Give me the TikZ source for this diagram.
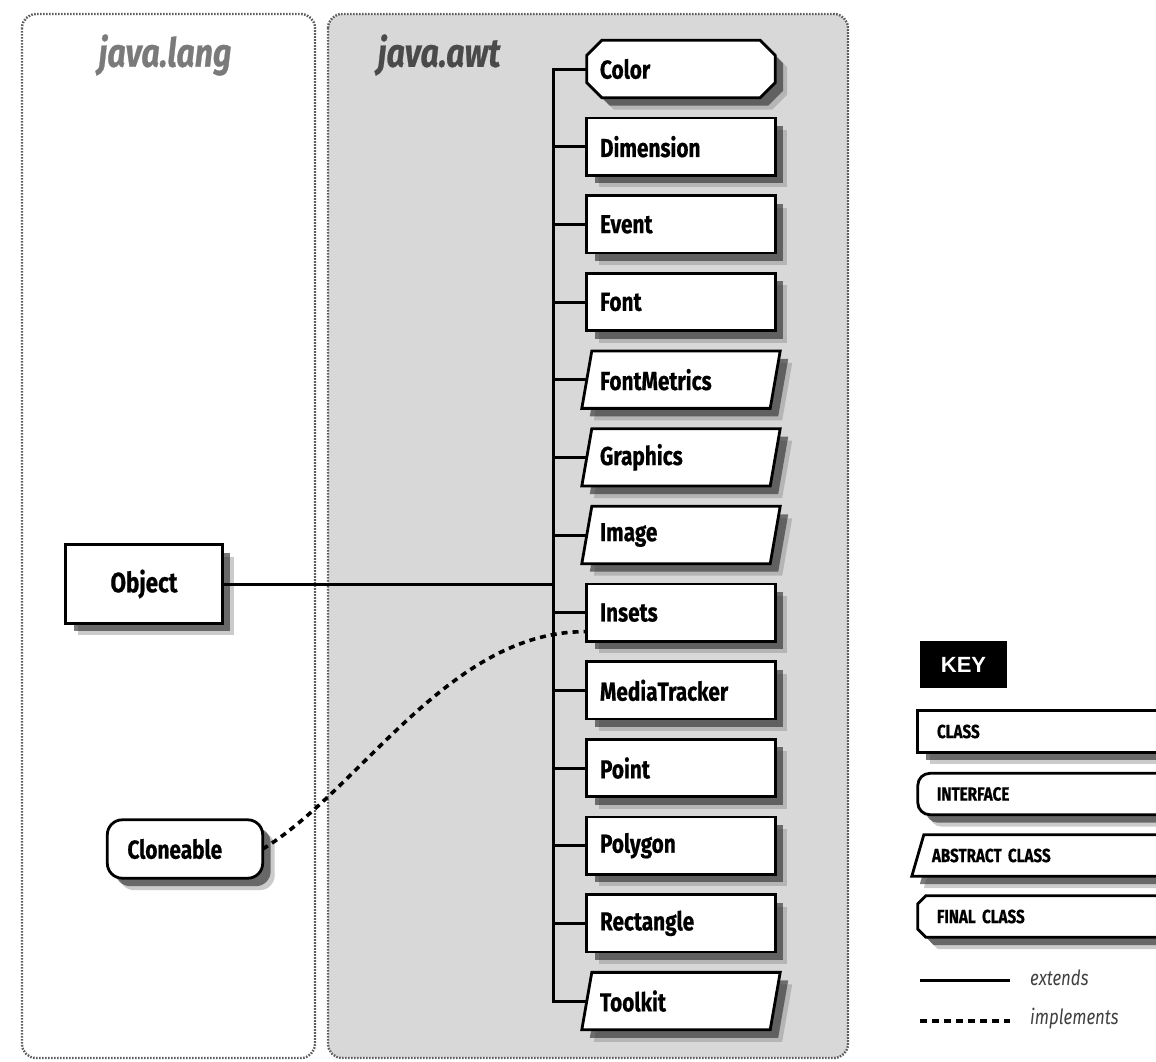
\documentclass[tikz,border=0pt]{standalone}
\usepackage{fontspec}
\setmainfont{Fira Sans}
\newfontfamily\condfont[FakeStretch=0.8]{Fira Sans}
\newfontfamily\heavyfont[FakeStretch=0.8,FakeBold=0.6]{Fira Sans}
\newfontfamily\keyfont{Liberation Sans}
\usetikzlibrary{shadows,calc}
\pgfdeclarelayer{back}
\pgfdeclarelayer{bg}
\pgfsetlayers{back,bg,main}
\definecolor{panelgray}{HTML}{D8D8D8}
\definecolor{bordergray}{HTML}{5E5E5E}
\definecolor{langgray}{HTML}{7A7A7A}
\definecolor{awtgray}{HTML}{4A4A4A}
\tikzset{
  panel/.style={draw=bordergray, line width=2.4pt, dash pattern=on 1.6pt off 1.4pt, rounded corners=14pt},
  ptitle/.style={font=\heavyfont\bfseries\itshape\fontsize{40}{44}\selectfont},
  outline/.style={draw=black, line width=2.8pt, fill=white, line join=miter,
     drop shadow={shadow xshift=12pt, shadow yshift=-12pt, fill=black!45, opacity=.45},
     drop shadow={shadow xshift=8pt, shadow yshift=-8pt, fill=black!80, opacity=.65}},
  boxtext/.style={font=\heavyfont\bfseries\fontsize{26}{30}\selectfont, text=black},
  awtbox/.style={boxtext, minimum width=188pt, minimum height=57pt, text width=162pt, inner xsep=13pt, inner ysep=0pt, align=left},
  keybox/.style={font=\heavyfont\bfseries\fontsize{19}{22}\selectfont, minimum width=250pt, minimum height=41pt, text width=212pt, inner xsep=19pt, inner ysep=0pt, align=left},
  extline/.style={draw=black, line width=3pt, line cap=rect},
  implline/.style={draw=black, line width=3.6pt, dash pattern=on 6pt off 5pt},
  legendtext/.style={font=\condfont\itshape\fontsize{21}{24}\selectfont, text=black!75, anchor=west, inner sep=0pt},
}
\newcommand\outclass[1]{\path[outline] (#1.north west) rectangle (#1.south east);}
\newcommand\outiface[2]{\path[outline, rounded corners=#2] (#1.north west) rectangle (#1.south east);}
\newcommand\outabs[2]{\path[outline] ([xshift=#2]#1.north west) -- ([xshift=#2]#1.north east) -- ([xshift=-#2]#1.south east) -- ([xshift=-#2]#1.south west) -- cycle;}
\newcommand\outfinal[2]{\path[outline] ([xshift=#2]#1.north west) -- ([xshift=-#2]#1.north east) -- ([yshift=-#2]#1.north east) -- ([yshift=#2]#1.south east) -- ([xshift=-#2]#1.south east) -- ([xshift=#2]#1.south west) -- ([yshift=#2]#1.south west) -- ([yshift=-#2]#1.north west) -- cycle;}
\begin{document}
\begin{tikzpicture}[x=1pt, y=-1pt]
\useasboundingbox (0,0) rectangle (1156,1061);

% panels
\begin{pgfonlayer}{back}
\path[panel, fill=white] (22,14) rectangle (315,1058);
\path[panel, fill=panelgray] (328,14) rectangle (848,1058);
\end{pgfonlayer}

\node[ptitle, text=langgray] (langtitle) at (165,55) {java.lang};
\node[ptitle, text=awtgray] (awttitle) at (439,55) {java.awt};

% java.awt classes
\foreach \n [count=\i from 0] in {Color,Dimension,Event,Font,FontMetrics,Graphics,Image,Insets,MediaTracker,Point,Polygon,Rectangle,Toolkit}
  \node[awtbox] (\n) at (681,{69+77.67*\i}) {\n};

% java.lang
\node[boxtext, font=\heavyfont\bfseries\fontsize{28}{32}\selectfont, minimum width=156pt, minimum height=78pt, inner sep=0pt] (Object) at (144,584) {Object};
\node[boxtext, minimum width=155pt, minimum height=58pt, text width=115pt, inner xsep=20pt, inner ysep=0pt, align=left] (Cloneable) at (185,849) {Cloneable};

% key
\node[fill=black, text=white, font=\keyfont\bfseries\fontsize{22}{24}\selectfont, minimum width=87pt, minimum height=47pt, inner sep=0pt] (key) at (963.5,664.5) {KEY};
\node[keybox] (kclass) at (1043,731.5) {CLASS};
\node[keybox] (kiface) at (1043,794) {INTERFACE};
\node[keybox, text width=222pt, inner xsep=14pt] (kabs) at (1043,855.5) {ABSTRACT CLASS};
\node[keybox] (kfinal) at (1043,916.5) {FINAL CLASS};

% outlines
\begin{pgfonlayer}{bg}
\outfinal{Color}{15pt}
\foreach \n in {Dimension,Event,Font,Insets,MediaTracker,Point,Polygon,Rectangle} {\outclass{\n}}
\foreach \n in {FontMetrics,Graphics,Image,Toolkit} {\outabs{\n}{5pt}}
\outclass{Object}
\outiface{Cloneable}{15pt}
\outclass{kclass}
\outiface{kiface}{12pt}
\outabs{kabs}{6pt}
\outfinal{kfinal}{8pt}
\end{pgfonlayer}

% extends connectors
\coordinate (trunk) at (553,0);
\draw[extline, line cap=butt, line join=miter] (Color.west) -- (Color.west -| trunk) -- (Toolkit.west -| trunk) -- (Toolkit.west);
\foreach \n in {Dimension,Event,Font,FontMetrics,Graphics,Image,Insets,MediaTracker,Point,Polygon,Rectangle}
  \draw[extline] (\n.west) -- (\n.west -| trunk);
\draw[extline] (Object.east) -- (Object.east -| trunk);

% implements connector
\coordinate (insetsin) at ([yshift=-19pt]Insets.west);
\draw[implline] (Cloneable.east) .. controls (360,790) and (450,630) .. (insetsin);

% legend lines
\coordinate (la) at (920,980.5);
\coordinate (lb) at (1010,980.5);
\coordinate (lc) at (920,1021);
\coordinate (ld) at (1010,1021);
\draw[extline, line width=3.4pt, line cap=butt] (la) -- (lb);
\draw[implline, line width=3.4pt, dash pattern=on 7pt off 5pt] (lc) -- (ld);
\node[legendtext] (extlbl) at (1030,978) {extends};
\node[legendtext] (impllbl) at (1030,1019) {implements};
\end{tikzpicture}
\end{document}
